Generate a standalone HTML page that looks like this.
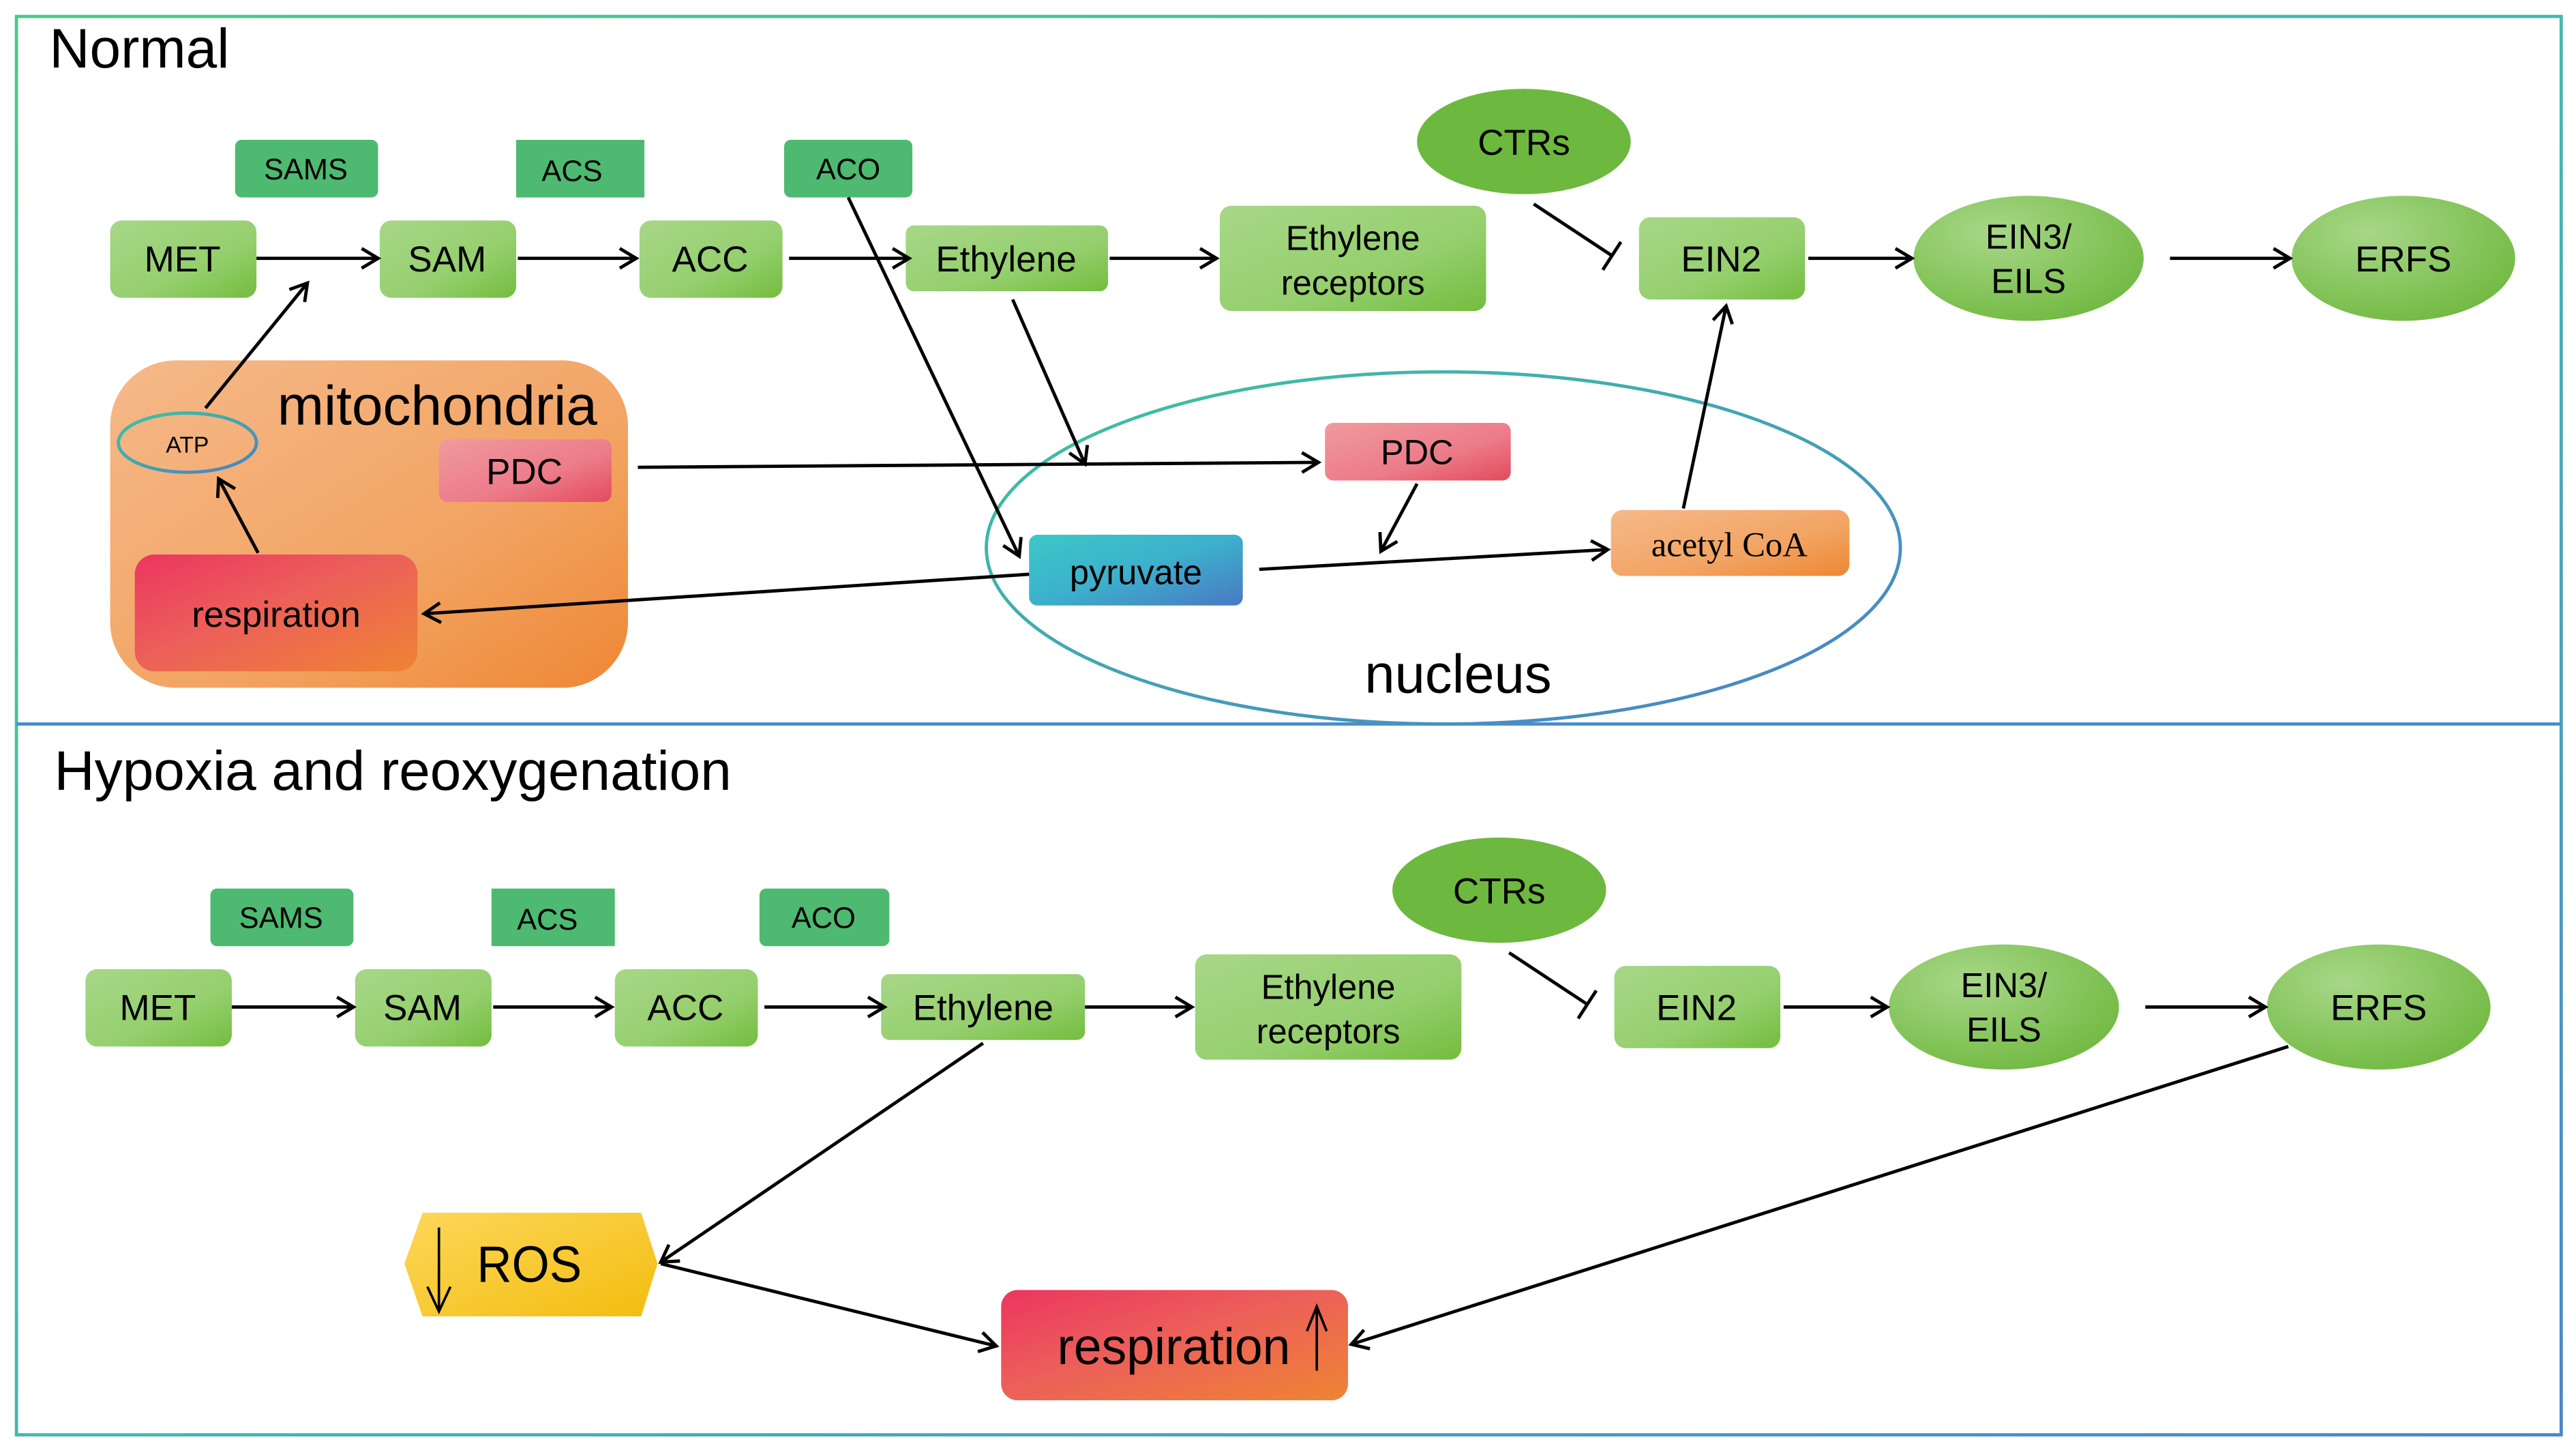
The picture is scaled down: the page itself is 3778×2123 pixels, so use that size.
<!DOCTYPE html>
<html><head><meta charset="utf-8"><style>html,body{margin:0;padding:0;background:#fff}svg{display:block}text{font-family:"Liberation Sans",sans-serif}</style></head><body>
<svg width="3778" height="2123" viewBox="0 0 1567 880" preserveAspectRatio="none" xmlns="http://www.w3.org/2000/svg">
<defs>
<linearGradient id="gr" x1="0" y1="0" x2="1" y2="1"><stop offset="0" stop-color="#a7d788"/><stop offset="0.6" stop-color="#95cf6e"/><stop offset="1" stop-color="#74bd3f"/></linearGradient>
<radialGradient id="gre" cx="0.35" cy="0.3" r="0.8"><stop offset="0" stop-color="#a7d788"/><stop offset="1" stop-color="#6fb83e"/></radialGradient>
<linearGradient id="bd" x1="0" y1="0" x2="1" y2="1"><stop offset="0" stop-color="#4cc98c"/><stop offset="0.5" stop-color="#46b8b0"/><stop offset="1" stop-color="#4a86c8"/></linearGradient>
<linearGradient id="or" x1="0" y1="0" x2="1" y2="1"><stop offset="0" stop-color="#f5b98a"/><stop offset="0.6" stop-color="#f2a463"/><stop offset="1" stop-color="#ee8734"/></linearGradient>
<linearGradient id="rs" x1="0" y1="0" x2="1" y2="1"><stop offset="0" stop-color="#ec3560"/><stop offset="0.45" stop-color="#ec5f5a"/><stop offset="1" stop-color="#ef8433"/></linearGradient>
<linearGradient id="pk" x1="0" y1="0" x2="1" y2="1"><stop offset="0" stop-color="#f09aa0"/><stop offset="0.6" stop-color="#ec7b88"/><stop offset="1" stop-color="#e34a5e"/></linearGradient>
<linearGradient id="py" x1="0" y1="0" x2="1" y2="1"><stop offset="0" stop-color="#3cc8c8"/><stop offset="0.5" stop-color="#3cb0cc"/><stop offset="1" stop-color="#4a78c4"/></linearGradient>
<linearGradient id="ye" x1="0" y1="0" x2="1" y2="1"><stop offset="0" stop-color="#fdd75a"/><stop offset="1" stop-color="#f3bd0f"/></linearGradient>
<linearGradient id="nu" x1="0" y1="0" x2="1" y2="1"><stop offset="0" stop-color="#3cc6a0"/><stop offset="1" stop-color="#4a80c8"/></linearGradient>
<marker id="a" markerWidth="14" markerHeight="14" refX="12" refY="7" orient="auto" markerUnits="userSpaceOnUse"><path d="M2,1 L12,7 L2,13" fill="none" stroke="#000" stroke-width="2"/></marker>
<filter id="sh" x="-20%" y="-30%" width="140%" height="180%"><feGaussianBlur in="SourceAlpha" stdDeviation="4"/><feOffset dy="5"/><feFlood flood-color="#f0a060" flood-opacity="0.6"/><feComposite operator="in" in2="SourceAlpha" result="s"/><feMerge><feMergeNode/><feMergeNode in="SourceGraphic"/></feMerge></filter>
</defs>
<rect x="10" y="10" width="1548" height="862" fill="none" stroke="url(#bd)" stroke-width="2"/>
<line x1="10" y1="440" x2="1558" y2="440" stroke="#4a8ccc" stroke-width="2"/>
<text x="30" y="41" font-size="34">Normal</text>
<text x="33" y="480" font-size="34">Hypoxia and reoxygenation</text>

<g id="top">
<rect x="143" y="85" width="87" height="35" rx="4" fill="#4eb970"/><text x="186" y="109" font-size="18" text-anchor="middle">SAMS</text>
<rect x="314" y="85" width="78" height="35" fill="#4eb970"/><text x="348" y="110" font-size="18" text-anchor="middle">ACS</text>
<rect x="477" y="85" width="78" height="35" rx="4" fill="#4eb970"/><text x="516" y="109" font-size="18" text-anchor="middle">ACO</text>
<rect x="67" y="134" width="89" height="47" rx="7" fill="url(#gr)"/><text x="111" y="165" font-size="22" text-anchor="middle">MET</text>
<rect x="231" y="134" width="83" height="47" rx="7" fill="url(#gr)"/><text x="272" y="165" font-size="22" text-anchor="middle">SAM</text>
<rect x="389" y="134" width="87" height="47" rx="7" fill="url(#gr)"/><text x="432" y="165" font-size="22" text-anchor="middle">ACC</text>
<rect x="551" y="137" width="123" height="40" rx="5" fill="url(#gr)"/><text x="612" y="165" font-size="22" text-anchor="middle">Ethylene</text>
<rect x="742" y="125" width="162" height="64" rx="7" fill="url(#gr)"/><text x="823" y="152" font-size="21" text-anchor="middle">Ethylene</text><text x="823" y="179" font-size="21" text-anchor="middle">receptors</text>
<rect x="997" y="132" width="101" height="50" rx="7" fill="url(#gr)"/><text x="1047" y="165" font-size="22" text-anchor="middle">EIN2</text>
<ellipse cx="927" cy="86" rx="65" ry="32" fill="#6db83e"/><text x="927" y="94" font-size="22" text-anchor="middle">CTRs</text>
<ellipse cx="1234" cy="157" rx="70" ry="38" fill="url(#gre)"/><text x="1234" y="151" font-size="21" text-anchor="middle">EIN3/</text><text x="1234" y="178" font-size="21" text-anchor="middle">EILS</text>
<ellipse cx="1462" cy="157" rx="68" ry="38" fill="url(#gre)"/><text x="1462" y="165" font-size="22" text-anchor="middle">ERFS</text>
<g stroke="#000" stroke-width="2" fill="none" marker-end="url(#a)">
<line x1="156" y1="157" x2="230" y2="157"/><line x1="315" y1="157" x2="387" y2="157"/><line x1="480" y1="157" x2="553" y2="157"/><line x1="675" y1="157" x2="740" y2="157"/><line x1="1100" y1="157" x2="1163" y2="157"/><line x1="1320" y1="157" x2="1393" y2="157"/>
</g>
<g stroke="#000" stroke-width="2"><line x1="933" y1="124" x2="980" y2="155"/><line x1="986" y1="147" x2="975" y2="164"/></g>
</g>

<rect x="67" y="219" width="315" height="199" rx="40" fill="url(#or)"/>
<text x="266" y="258" font-size="34" text-anchor="middle">mitochondria</text>
<ellipse cx="114" cy="269" rx="42" ry="18" fill="none" stroke="url(#nu)" stroke-width="2"/><text x="114" y="275" font-size="14" text-anchor="middle">ATP</text>
<rect x="267" y="267" width="105" height="38" rx="5" fill="url(#pk)"/><text x="319" y="294" font-size="22" text-anchor="middle">PDC</text>
<rect x="82" y="337" width="172" height="71" rx="12" fill="url(#rs)"/><text x="168" y="381" font-size="22" text-anchor="middle">respiration</text>
<ellipse cx="878" cy="333" rx="278" ry="107" fill="none" stroke="url(#nu)" stroke-width="2"/>
<text x="887" y="421" font-size="33" text-anchor="middle">nucleus</text>
<rect x="806" y="257" width="113" height="35" rx="5" fill="url(#pk)"/><text x="862" y="282" font-size="21" text-anchor="middle">PDC</text>
<rect x="626" y="325" width="130" height="43" rx="5" fill="url(#py)"/><text x="691" y="355" font-size="21" text-anchor="middle">pyruvate</text>
<rect x="980" y="310" width="145" height="40" rx="7" fill="url(#or)" filter="url(#sh)"/><text x="1052" y="338" font-size="21" text-anchor="middle" style="font-family:'Liberation Serif',serif">acetyl CoA</text>
<g stroke="#000" stroke-width="2" fill="none" marker-end="url(#a)">
<line x1="125" y1="248" x2="187" y2="172"/><line x1="157" y1="336" x2="133" y2="291"/>
<line x1="388" y1="284" x2="802" y2="281"/><line x1="516" y1="120" x2="620" y2="338"/><line x1="616" y1="182" x2="660" y2="282"/>
<line x1="862" y1="294" x2="840" y2="335"/><line x1="766" y1="346" x2="978" y2="334"/><line x1="626" y1="349" x2="258" y2="373"/><line x1="1024" y1="309" x2="1050" y2="186"/>
</g>

<g transform="translate(-15,455)">
<rect x="143" y="85" width="87" height="35" rx="4" fill="#4eb970"/><text x="186" y="109" font-size="18" text-anchor="middle">SAMS</text>
<rect x="314" y="85" width="75" height="35" fill="#4eb970"/><text x="348" y="110" font-size="18" text-anchor="middle">ACS</text>
<rect x="477" y="85" width="79" height="35" rx="4" fill="#4eb970"/><text x="516" y="109" font-size="18" text-anchor="middle">ACO</text>
<rect x="67" y="134" width="89" height="47" rx="7" fill="url(#gr)"/><text x="111" y="165" font-size="22" text-anchor="middle">MET</text>
<rect x="231" y="134" width="83" height="47" rx="7" fill="url(#gr)"/><text x="272" y="165" font-size="22" text-anchor="middle">SAM</text>
<rect x="389" y="134" width="87" height="47" rx="7" fill="url(#gr)"/><text x="432" y="165" font-size="22" text-anchor="middle">ACC</text>
<rect x="551" y="137" width="124" height="40" rx="5" fill="url(#gr)"/><text x="613" y="165" font-size="22" text-anchor="middle">Ethylene</text>
<rect x="742" y="125" width="162" height="64" rx="7" fill="url(#gr)"/><text x="823" y="152" font-size="21" text-anchor="middle">Ethylene</text><text x="823" y="179" font-size="21" text-anchor="middle">receptors</text>
<rect x="997" y="132" width="101" height="50" rx="7" fill="url(#gr)"/><text x="1047" y="165" font-size="22" text-anchor="middle">EIN2</text>
<ellipse cx="927" cy="86" rx="65" ry="32" fill="#6db83e"/><text x="927" y="94" font-size="22" text-anchor="middle">CTRs</text>
<ellipse cx="1234" cy="157" rx="70" ry="38" fill="url(#gre)"/><text x="1234" y="151" font-size="21" text-anchor="middle">EIN3/</text><text x="1234" y="178" font-size="21" text-anchor="middle">EILS</text>
<ellipse cx="1462" cy="157" rx="68" ry="38" fill="url(#gre)"/><text x="1462" y="165" font-size="22" text-anchor="middle">ERFS</text>
<g stroke="#000" stroke-width="2" fill="none" marker-end="url(#a)">
<line x1="156" y1="157" x2="230" y2="157"/><line x1="315" y1="157" x2="387" y2="157"/><line x1="480" y1="157" x2="553" y2="157"/><line x1="675" y1="157" x2="740" y2="157"/><line x1="1100" y1="157" x2="1163" y2="157"/><line x1="1320" y1="157" x2="1393" y2="157"/>
</g>
<g stroke="#000" stroke-width="2"><line x1="933" y1="124" x2="980" y2="155"/><line x1="986" y1="147" x2="975" y2="164"/></g>
</g>

<polygon points="257,737 390,737 400,768 390,800 257,800 246,768" fill="url(#ye)"/>
<text x="322" y="779" font-size="31" text-anchor="middle" transform="translate(322,0) scale(0.95,1) translate(-322,0)">ROS</text>
<g stroke="#000" stroke-width="1.5" fill="none"><line x1="267" y1="746" x2="267" y2="797"/><path d="M260,782 L267,797 L274,782"/></g>
<rect x="609" y="784" width="211" height="67" rx="10" fill="url(#rs)"/>
<text x="714" y="829" font-size="31" text-anchor="middle" transform="translate(714,0) scale(0.98,1) translate(-714,0)">respiration</text>
<g stroke="#000" stroke-width="1.5" fill="none"><line x1="801" y1="833" x2="801" y2="794"/><path d="M795,809 L801,794 L807,809"/></g>
<g stroke="#000" stroke-width="2" fill="none" marker-end="url(#a)">
<line x1="598" y1="634" x2="402" y2="767"/><line x1="402" y1="768" x2="606" y2="818"/><line x1="1392" y1="636" x2="822" y2="817"/>
</g>
</svg>
</body></html>
